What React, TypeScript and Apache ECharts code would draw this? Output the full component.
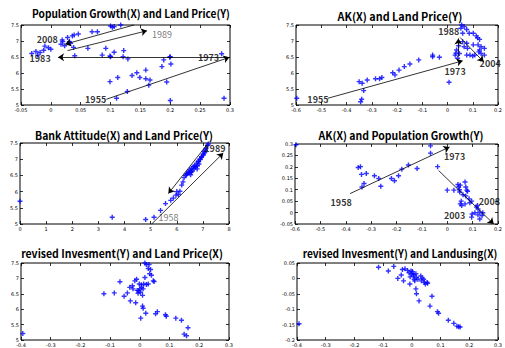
import React, { useEffect, useRef } from "react";
import * as echarts from "echarts";

// ---------- data ----------
const titles = [
  "Population Growth(X) and Land Price(Y)",
  "AK(X) and Land Price(Y)",
  "Bank Attitude(X) and Land Price(Y)",
  "AK(X) and Population Growth(Y)",
  "revised Invesment(Y) and Land Price(X)",
  "revised Invesment(Y) and Landusing(X)",
];

const popGrowthVsLandPrice: number[][] = [
  [-0.032, 6.61], [-0.025, 6.67], [-0.022, 6.56], [-0.018, 6.64], [-0.012, 6.71], [-0.01, 6.84], [-0.004, 6.79],
  [0, 6.74], [0.017, 6.9], [0.019, 7.03], [0.02, 6.98], [0.023, 6.85], [0.028, 7.11], [0.033, 6.93],
  [0.031, 6.98], [0.036, 7.16], [0.039, 7.19], [0.046, 7.22], [0.038, 6.8], [0.04, 6.54], [0.069, 7.29],
  [0.078, 7.29], [0.062, 6.77], [0.1, 7.47], [0.103, 7.43], [0.106, 7.45], [0.117, 7.5], [0.086, 6.56],
  [0.092, 6.77], [0.099, 6.53], [0.1, 6.51], [0.106, 6.65], [0.122, 6.7], [0.121, 6.51], [0.129, 6.44],
  [0.099, 5.73], [0.112, 5.86], [0.11, 5.21], [0.128, 5.42], [0.136, 5.92], [0.144, 6.01], [0.149, 5.86],
  [0.159, 6.09], [0.159, 5.82], [0.166, 5.78], [0.164, 5.62], [0.186, 6.2], [0.189, 6.41], [0.194, 5.72],
  [0.199, 6.49], [0.201, 6.28], [0.2, 5.14], [0.2, 6.51], [0.286, 6.6], [0.29, 5.21],
];
const popGrowthArrows: number[][] = [
  [0.093, 5.18, 0.299, 6.49],
  [0.299, 6.49, 0.012, 6.49],
  [0.028, 6.7, 0.161, 7.32],
  [0.139, 7.5, 0.024, 6.9],
];
const popGrowthYears = [
  { name: "2008", x: -0.006, y: 7.05, bold: true },
  { name: "1983", x: -0.018, y: 6.46, bold: true },
  { name: "1989", x: 0.186, y: 7.19, bold: false },
  { name: "1973", x: 0.264, y: 6.49, bold: true },
  { name: "1955", x: 0.075, y: 5.18, bold: true },
];

const akVsLandPrice: number[][] = [
  [-0.597, 5.21], [-0.35, 5.73], [-0.338, 5.68], [-0.332, 5.45], [-0.34, 5.18], [-0.344, 5.1], [-0.318, 5.78],
  [-0.285, 5.82], [-0.269, 5.82], [-0.26, 5.86], [-0.217, 6.01], [-0.208, 5.94], [-0.192, 6.09], [-0.171, 6.2],
  [-0.149, 6.28], [-0.114, 6.41], [-0.059, 6.56], [-0.059, 6.51], [-0.032, 6.49], [0.006, 5.71], [0.03, 6.56],
  [0.036, 6.72], [0.04, 6.46], [0.047, 6.61], [0.056, 7.5], [0.06, 7.24], [0.066, 7.45], [0.076, 7.36],
  [0.06, 6.98], [0.066, 6.82], [0.076, 6.93], [0.079, 6.77], [0.086, 7.24], [0.089, 6.56], [0.1, 6.53],
  [0.102, 7.24], [0.114, 7.16], [0.127, 7.05], [0.121, 6.88], [0.133, 6.82], [0.127, 6.72], [0.146, 6.77],
  [0.133, 6.61], [0.146, 6.56], [0.102, 6.88], [0.108, 6.56], [0.076, 6.56], [0.033, 6.62], [0.044, 6.85],
  [0.053, 7.4], [0.119, 7.1], [0.124, 6.66],
];
const akLandArrows: number[][] = [
  [-0.474, 5.21, 0.06, 6.38],
  [0.043, 6.51, 0.043, 7.08],
  [0.05, 7.11, 0.143, 6.35],
];
const akLandYears = [
  { name: "1955", x: -0.513, y: 5.16, bold: true },
  { name: "1973", x: 0.03, y: 6.06, bold: true },
  { name: "1988", x: 0.005, y: 7.29, bold: true },
  { name: "2004", x: 0.169, y: 6.3, bold: true },
];

const bankVsLandPrice: number[][] = [
  [0, 5.7], [3.53, 5.21], [4.81, 5.14], [5.13, 5.21], [5.38, 5.42], [5.57, 5.63], [5.77, 5.73], [5.87, 5.8],
  [5.97, 5.89], [6.06, 5.91], [6.12, 6.01], [6.19, 6.2], [6.28, 6.43], [6.38, 6.53], [6.44, 6.61], [6.5, 6.67],
  [6.57, 6.72], [6.63, 6.77], [6.7, 6.8], [6.76, 6.88], [6.82, 6.93], [6.89, 7.01], [6.95, 7.08], [7.02, 7.16],
  [7.04, 7.24], [7.12, 7.34], [7.21, 7.47], [6.34, 6.5], [6.4, 6.56], [6.48, 6.58], [6.53, 6.62], [6.53, 6.52],
  [6.6, 6.64], [6.66, 6.7], [6.72, 6.75], [6.79, 6.8], [6.85, 6.85], [6.78, 6.7], [6.84, 6.93], [6.9, 6.99],
  [6.95, 7.06], [7.01, 7.12], [7.07, 7.2], [7.1, 7.28], [7.18, 7.43], [6.24, 6.3], [6.0, 6.0], [6.56, 6.6],
  [6.68, 6.78],
];
const bankArrows: number[][] = [
  [5.04, 5.0, 7.78, 7.19],
  [7.14, 7.43, 5.68, 5.94],
];
const bankYears = [
  { name: "1989", x: 7.46, y: 7.34, bold: true },
  { name: "1958", x: 5.68, y: 5.19, bold: false },
];

const akVsPopGrowth: number[][] = [
  [-0.596, 0.297], [-0.351, 0.197], [-0.342, 0.201], [-0.338, 0.167], [-0.328, 0.127], [-0.336, 0.112],
  [-0.319, 0.171], [-0.287, 0.161], [-0.27, 0.149], [-0.262, 0.115], [-0.22, 0.149], [-0.208, 0.139],
  [-0.192, 0.161], [-0.179, 0.19], [-0.153, 0.208], [-0.119, 0.193], [-0.066, 0.292], [-0.066, 0.26],
  [-0.038, 0.201], [0, 0.098], [0.026, 0.098], [0.042, 0.123], [0.045, 0.112], [0.051, 0.12], [0.049, 0.09],
  [0.07, 0.134], [0.073, 0.112], [0.077, 0.098], [0.051, 0.038], [0.057, 0.031], [0.07, 0.038], [0.073, 0.073],
  [0.08, 0.093], [0.086, 0.06], [0.089, 0.043], [0.096, 0.05], [0.098, -0.006], [0.096, -0.02], [0.109, -0.001],
  [0.115, 0.024], [0.119, 0.031], [0.121, 0.016], [0.121, -0.01], [0.128, 0.002], [0.128, -0.028],
  [0.137, -0.013], [0.14, -0.001], [0.048, 0.1], [0.062, 0.078], [0.055, 0.05],
];
const akPopArrows: number[][] = [
  [-0.383, 0.083, 0.009, 0.287],
  [-0.034, 0.184, 0.183, -0.05],
];
const akPopYears = [
  { name: "1958", x: -0.418, y: 0.043, bold: true },
  { name: "1973", x: 0.029, y: 0.245, bold: true },
  { name: "2003", x: 0.029, y: -0.013, bold: true },
  { name: "2008", x: 0.166, y: 0.05, bold: true },
];

const invVsLandPrice: number[][] = [
  [-0.394, 5.21], [-0.121, 6.5], [-0.086, 6.53], [-0.067, 6.89], [-0.053, 6.42], [-0.042, 6.53], [-0.034, 6.71],
  [-0.032, 6.27], [-0.025, 6.76], [-0.023, 6.66], [-0.017, 6.92], [-0.014, 6.21], [-0.011, 6.97], [-0.009, 6.61],
  [-0.006, 6.52], [-0.002, 6.82], [0, 6.66], [0.002, 6.55], [0.005, 6.79], [0.009, 6.45], [0.011, 6.66],
  [0.013, 6.82], [0.003, 5.71], [0.009, 6.1], [0.011, 6.03], [0.02, 5.87], [0.017, 7.5], [0.022, 7.45],
  [0.028, 7.32], [0.031, 7.45], [0.033, 7.15], [0.017, 7.03], [0.022, 6.8], [0.028, 6.82], [0.036, 7.29],
  [0.039, 7.1], [0.045, 6.92], [0.048, 6.9], [0.053, 5.85], [0.059, 5.92], [0.086, 5.82], [0.089, 5.77],
  [0.121, 5.71], [0.14, 5.64], [0.149, 5.19], [0.157, 5.14], [0.162, 5.4], [-0.004, 6.6], [0.006, 6.7],
];

const invVsLandusing: number[][] = [
  [-0.393, -0.147], [-0.116, 0.036], [-0.082, 0.024], [-0.063, 0.039], [-0.049, 0.0], [-0.037, 0.011],
  [-0.033, 0.029], [-0.029, -0.008], [-0.024, 0.031], [-0.015, 0.026], [-0.01, 0.018], [-0.007, -0.018],
  [-0.006, 0.005], [-0.003, 0.024], [-0.001, 0.015], [0.002, 0.022], [0.005, 0.008], [0.007, 0.013],
  [0.008, -0.003], [0.01, -0.008], [0.014, 0.015], [0.016, 0.003], [0.014, -0.034], [0.016, -0.05],
  [0.021, -0.003], [0.025, -0.073], [0.031, 0.008], [0.033, -0.008], [0.036, 0.001], [0.041, -0.003],
  [0.044, -0.013], [0.047, -0.018], [0.053, -0.013], [0.055, -0.016], [0.063, -0.09], [0.07, -0.058],
  [0.089, -0.108], [0.093, -0.113], [0.127, -0.136], [0.146, -0.146], [0.157, -0.155], [0.163, -0.157],
  [0.168, -0.158],
];

const xRanges = [
  { min: -0.05, max: 0.3, interval: 0.05 },
  { min: -0.6, max: 0.2, interval: 0.1 },
  { min: 0, max: 8, interval: 1 },
  { min: -0.6, max: 0.2, interval: 0.1 },
  { min: -0.4, max: 0.3, interval: 0.1 },
  { min: -0.4, max: 0.3, interval: 0.1 },
];
const yRanges = [
  { min: 5, max: 7.5, interval: 0.5 },
  { min: 5, max: 7.5, interval: 0.5 },
  { min: 5, max: 7.5, interval: 0.5 },
  { min: -0.05, max: 0.3, interval: 0.05 },
  { min: 5, max: 7.5, interval: 0.5 },
  { min: -0.2, max: 0.05, interval: 0.05 },
];

// ---------- layout ----------
const grids = [
  { left: 21, top: 25, width: 209, height: 80 },
  { left: 296, top: 25, width: 206, height: 80 },
  { left: 20, top: 143, width: 209, height: 81 },
  { left: 295, top: 144, width: 207, height: 80 },
  { left: 21, top: 263, width: 208, height: 77 },
  { left: 297, top: 263, width: 205, height: 77 },
];
const titlePos = [
  { cx: 131, cy: 13, w: 198 },
  { cx: 400, cy: 16, w: 125 },
  { cx: 124, cy: 135, w: 178 },
  { cx: 401, cy: 135, w: 165 },
  { cx: 122, cy: 253, w: 202 },
  { cx: 400, cy: 253, w: 195 },
];

const TITLE_FONT = '"Noto Sans CJK JP", "Noto Sans", sans-serif';
const TITLE_SIZE = 11;
const PLUS = "path://M3.6,0H6.4V3.6H10V6.4H6.4V10H3.6V6.4H0V3.6H3.6Z";

function measure(text: string): number {
  const c = document.createElement("canvas").getContext("2d");
  if (!c) return 0;
  c.font = `bold ${TITLE_SIZE}px ${TITLE_FONT}`;
  return c.measureText(text).width;
}

function axisPair(i: number, dim: "x" | "y", r: { min: number; max: number; interval: number }) {
  const base = {
    type: "value",
    gridIndex: i,
    min: r.min,
    max: r.max,
    interval: r.interval,
    splitLine: { show: false },
    axisLine: { show: false, onZero: false },
    axisTick: { show: true, inside: true, length: 3, lineStyle: { color: "#000", width: 0.8 } },
  };
  const main = {
    ...base,
    position: dim === "x" ? "bottom" : "left",
    axisLabel: { show: true, fontSize: 5, color: "#000", margin: 2, fontFamily: "DejaVu Sans" },
  };
  const other = {
    ...base,
    position: dim === "x" ? "top" : "right",
    axisLabel: { show: false },
  };
  return [main, other];
}

export default function App() {
  const ref = useRef<HTMLDivElement>(null);
  useEffect(() => {
    if (!ref.current) return;
    const chart = echarts.init(ref.current, undefined, { renderer: "svg" });

    const points = [popGrowthVsLandPrice, akVsLandPrice, bankVsLandPrice, akVsPopGrowth, invVsLandPrice, invVsLandusing];
    const arrows = [popGrowthArrows, akLandArrows, bankArrows, akPopArrows, [], []];
    const years = [popGrowthYears, akLandYears, bankYears, akPopYears, [], []];

    const xAxis: any[] = [];
    const yAxis: any[] = [];
    const series: any[] = [];
    grids.forEach((_, i) => {
      xAxis.push(...axisPair(i, "x", xRanges[i]));
      yAxis.push(...axisPair(i, "y", yRanges[i]));
      series.push({
        type: "scatter",
        xAxisIndex: 2 * i,
        yAxisIndex: 2 * i,
        symbol: PLUS,
        symbolSize: 5,
        itemStyle: { color: "#0000ff" },
        data: points[i],
        markLine: arrows[i].length
          ? {
              silent: true,
              symbol: ["none", "arrow"],
              symbolSize: 6,
              lineStyle: { color: "#000", width: 0.8, type: "solid" },
              label: { show: false },
              data: arrows[i].map((a) => [{ coord: [a[0], a[1]] }, { coord: [a[2], a[3]] }]),
            }
          : undefined,
      });
      if (years[i].length) {
        series.push({
          type: "scatter",
          xAxisIndex: 2 * i,
          yAxisIndex: 2 * i,
          symbolSize: 1,
          itemStyle: { color: "rgba(0,0,0,0)" },
          silent: true,
          data: years[i].map((d) => ({
            name: d.name,
            value: [d.x, d.y],
            label: {
              show: true,
              position: "inside",
              formatter: "{b}",
              fontSize: 9,
              fontFamily: TITLE_FONT,
              fontWeight: d.bold ? "bold" : "normal",
              color: d.bold ? "#000" : "#555",
            },
          })),
        });
      }
    });

    const graphic = titles.map((t, i) => {
      const w = measure(t);
      const sx = w > 0 ? titlePos[i].w / w : 1;
      return {
        type: "text",
        x: titlePos[i].cx,
        y: titlePos[i].cy,
        scaleX: sx,
        style: {
          text: t,
          fontSize: TITLE_SIZE,
          fontWeight: "bold",
          fontFamily: TITLE_FONT,
          fill: "#000",
          align: "center",
          verticalAlign: "middle",
        },
      };
    });

    chart.setOption({
      animation: false,
      backgroundColor: "#fff",
      grid: grids.map((g) => ({ ...g, show: true, borderColor: "#000", borderWidth: 1, containLabel: false })),
      xAxis,
      yAxis,
      series,
      graphic,
    });
    return () => chart.dispose();
  }, []);
  return <div ref={ref} style={{ position: "absolute", left: 0, top: 0, width: 505, height: 348 }} />;
}
